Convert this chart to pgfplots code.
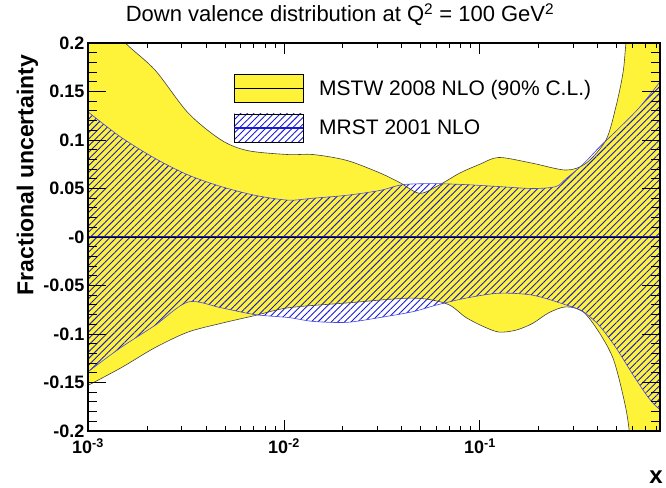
\documentclass[border=0pt]{standalone}
\usepackage{pgfplots}
\pgfplotsset{compat=1.18}
\usepackage{pgfplotstable}
\usepgfplotslibrary{fillbetween}
\usetikzlibrary{patterns.meta}
\usepackage{fontspec}
\setmainfont{Liberation Sans}

\definecolor{rootyellow}{RGB}{255,243,58}
\definecolor{hatchblue}{RGB}{25,25,215}
\definecolor{edgeblue}{RGB}{70,70,230}

% MSTW 2008 NLO, 90% C.L. band
\pgfplotstableread{
x y
0.001 0.240
0.00155 0.200
0.0022 0.172
0.00324 0.128
0.00478 0.100
0.00655 0.089
0.0105 0.085
0.0141 0.085
0.0209 0.079
0.0309 0.066
0.0391 0.056
0.0494 0.045
0.0625 0.054
0.0791 0.066
0.100 0.075
0.125 0.082
0.186 0.076
0.275 0.069
0.348 0.076
0.440 0.100
0.494 0.134
0.537 0.169
0.556 0.200
0.600 0.280
0.83 0.600
}\mstwup
\pgfplotstableread{
x y
0.001 -0.153
0.00147 -0.135
0.0022 -0.114
0.00324 -0.098
0.00478 -0.089
0.0071 -0.081
0.0105 -0.073
0.0209 -0.068
0.0455 -0.063
0.0679 -0.069
0.0849 -0.083
0.1035 -0.092
0.125 -0.098
0.153 -0.096
0.186 -0.089
0.225 -0.078
0.275 -0.072
0.336 -0.077
0.405 -0.098
0.478 -0.125
0.537 -0.163
0.576 -0.197
0.620 -0.270
0.83 -0.600
}\mstwlo

% MRST 2001 NLO band
\pgfplotstableread{
x y
0.001 0.129
0.00147 0.103
0.0022 0.081
0.00324 0.064
0.00478 0.052
0.0071 0.043
0.0105 0.038
0.0141 0.040
0.0209 0.043
0.0309 0.048
0.0405 0.054
0.0589 0.055
0.0849 0.054
0.125 0.052
0.186 0.050
0.244 0.052
0.275 0.060
0.336 0.075
0.409 0.093
0.518 0.113
0.655 0.134
0.83 0.160
}\mrstup
\pgfplotstableread{
x y
0.001 -0.139
0.00147 -0.114
0.0022 -0.091
0.00324 -0.067
0.00478 -0.073
0.0071 -0.080
0.0105 -0.083
0.0141 -0.087
0.0209 -0.088
0.0309 -0.083
0.0455 -0.077
0.0604 -0.070
0.0849 -0.063
0.125 -0.058
0.186 -0.060
0.275 -0.070
0.336 -0.077
0.405 -0.091
0.494 -0.114
0.604 -0.142
0.727 -0.166
0.8185 -0.177
0.83 -0.174
}\mrstlo

\begin{document}
\begin{tikzpicture}
\begin{axis}[
  at={(88pt,56pt)}, anchor=south west,
  scale only axis, width=572pt, height=388pt,
  xmode=log, xmin=0.001, xmax=0.83,
  ymin=-0.2, ymax=0.2,
  xtick={0.001,0.01,0.1},
  xticklabels={10\textsuperscript{-3},10\textsuperscript{-2},10\textsuperscript{-1}},
  minor xtick={0.002,0.003,0.004,0.005,0.006,0.007,0.008,0.009,
    0.02,0.03,0.04,0.05,0.06,0.07,0.08,0.09,0.2,0.3,0.4,0.5,0.6,0.7,0.8},
  ytick={-0.2,-0.15,-0.1,-0.05,0,0.05,0.1,0.15,0.2},
  yticklabels={-0.2,-0.15,-0.1,-0.05,-0,0.05,0.1,0.15,0.2},
  minor y tick num=4,
  tick style={black, line width=0.9pt},
  xtick style={/pgfplots/major tick length=11pt, /pgfplots/minor tick length=5.5pt},
  ytick style={/pgfplots/major tick length=18pt, /pgfplots/minor tick length=9pt},
  axis line style={line width=1.1pt},
  tick label style={font=\bfseries\fontsize{18}{20}\selectfont},
  xticklabel style={yshift=-4pt},
  axis on top,
  title={Down valence distribution at Q\textsuperscript{2} = 100 GeV\textsuperscript{2}},
  title style={font=\fontsize{22}{25}\selectfont, at={(axis description cs:0.4406,1.0387)}, anchor=base},
  ylabel={Fractional uncertainty},
  ylabel style={font=\bfseries\fontsize{23}{26}\selectfont, at={(axis description cs:-0.106,0.66)}, anchor=center},
  xlabel={x},
  xlabel style={font=\bfseries\fontsize{24}{26}\selectfont, at={(axis description cs:0.993,-0.1186)}, anchor=center},
  legend style={draw=none, fill=none, inner sep=0pt,
    at={(axis description cs:0.2535,0.9201)}, anchor=north west,
    font=\fontsize{21}{24}\selectfont, row sep=11pt, column sep=15pt,
    nodes={inner sep=0pt}},
  legend cell align=left,
]
\addlegendimage{legend image code/.code={
  \path[fill=rootyellow] (0pt,-14pt) rectangle (69pt,14pt);
  \draw[black, line width=1.2pt] (0pt,0pt) -- (69pt,0pt);}}
\addlegendentry{MSTW 2008 NLO (90\% C.L.)}
\addlegendimage{legend image code/.code={
  \path[pattern={Lines[angle=45,distance=4.7pt,line width=0.9pt]}, pattern color=hatchblue] (0pt,-14pt) rectangle (69pt,14pt);
  \draw[hatchblue, line width=2pt] (0pt,0pt) -- (69pt,0pt);}}
\addlegendentry{MRST 2001 NLO}

% named boundaries
\addplot[draw=none, smooth, name path=mu, forget plot] table {\mstwup};
\addplot[draw=none, smooth, name path=ml, forget plot] table {\mstwlo};
\addplot[draw=none, smooth, name path=ru, forget plot] table {\mrstup};
\addplot[draw=none, smooth, name path=rl, forget plot] table {\mrstlo};

% MSTW band
\addplot[fill=rootyellow, draw=none, forget plot] fill between[of=mu and ml];
\addplot[black!75, line width=0.6pt, smooth, forget plot] table {\mstwup};
\addplot[black!75, line width=0.6pt, smooth, forget plot] table {\mstwlo};

% MRST band
\addplot[pattern={Lines[angle=45,distance=4.7pt,line width=0.9pt]}, pattern color=hatchblue, draw=none, forget plot] fill between[of=ru and rl];
\addplot[edgeblue, line width=0.6pt, smooth, forget plot] table {\mrstup};
\addplot[edgeblue, line width=0.6pt, smooth, forget plot] table {\mrstlo};

% central values
\addplot[hatchblue, line width=1.3pt, forget plot] coordinates {(0.001,0) (0.83,0)};
\addplot[black, line width=0.6pt, forget plot] coordinates {(0.001,0) (0.83,0)};
\end{axis}
\pgfresetboundingbox
\useasboundingbox (0,0) rectangle (666pt,487pt);
\end{tikzpicture}
\end{document}
